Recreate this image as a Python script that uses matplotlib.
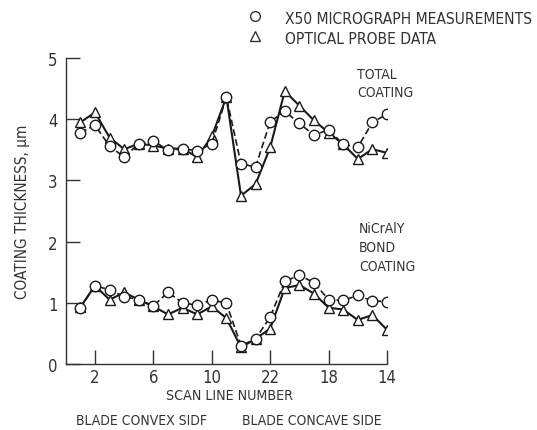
import matplotlib
matplotlib.use("Agg")
import matplotlib.pyplot as plt
from matplotlib.lines import Line2D

# fuente condensada parecida a la del original
plt.rcParams['font.family'] = ['DejaVu Sans']
plt.rcParams['font.stretch'] = 'condensed'

# posicion de cada linea de barrido (1-11 lado convexo, 12-22 lado concavo)
scan_pos = list(range(1, 23))
tick_pos = [2, 6, 10, 14, 18, 22]
tick_labels = ['2', '6', '10', '22', '18', '14']

# recubrimiento total
total_micro = [3.78, 3.90, 3.56, 3.38, 3.60, 3.65, 3.49, 3.52, 3.48, 3.60, 4.36,
               3.27, 3.22, 3.96, 4.13, 3.93, 3.74, 3.83, 3.59, 3.54, 3.95, 4.08]
total_probe = [3.95, 4.11, 3.70, 3.51, 3.60, 3.57, 3.52, 3.52, 3.38, 3.72, 4.36,
               2.75, 2.94, 3.54, 4.46, 4.22, 3.98, 3.78, 3.59, 3.35, 3.51, 3.45]

# capa de union NiCrAlY
bond_micro = [0.92, 1.28, 1.21, 1.10, 1.05, 0.95, 1.17, 1.00, 0.96, 1.05, 0.99,
              0.30, 0.41, 0.77, 1.35, 1.45, 1.33, 1.05, 1.04, 1.12, 1.03, 1.02]
bond_probe = [0.93, 1.28, 1.05, 1.17, 1.05, 0.94, 0.81, 0.92, 0.81, 0.94, 0.75,
              0.27, 0.41, 0.58, 1.24, 1.29, 1.15, 0.92, 0.89, 0.72, 0.80, 0.56]

ink = '#1a1a1a'
txt = '#333333'

fig = plt.figure(figsize=(5.37, 4.31), dpi=100)
ax = fig.add_axes([65.8 / 537, 1 - 365 / 431, (387 - 65.8) / 537, (365 - 59) / 431])

for micro, probe in [(total_micro, total_probe), (bond_micro, bond_probe)]:
    ax.plot(scan_pos, probe, '-', color=ink, lw=1.5, marker='^', ms=7.5,
            mfc='white', mec=ink, mew=1.0, zorder=3)
    ax.plot(scan_pos, micro, '--', color=ink, lw=1.2, dashes=(4, 2), marker='o', ms=7.5,
            mfc='white', mec=ink, mew=1.0, zorder=4)

ax.set_xlim(0, 22)
ax.set_ylim(0, 5)
ax.set_xticks(tick_pos)
ax.set_xticklabels(tick_labels)
ax.set_yticks([0, 1, 2, 3, 4, 5])
ax.spines['top'].set_visible(False)
ax.spines['right'].set_visible(False)
for s in ['left', 'bottom']:
    ax.spines[s].set_color(txt)
    ax.spines[s].set_linewidth(1.0)
ax.tick_params(direction='in', length=10, width=1.0, color=txt, labelcolor=txt,
               labelsize=12, pad=6)
ax.tick_params(axis='x', pad=3)

ax.set_ylabel('COATING THICKNESS, μm', fontsize=11, color=txt, labelpad=13)

def fig_text(x, y, s, **kw):
    fig.text(x / 537, 1 - y / 431, s, color=txt, va='center', **kw)

fig_text(230, 396, 'SCAN LINE NUMBER', ha='center', fontsize=10.2)
fig_text(142, 421, 'BLADE CONVEX SIDF', ha='center', fontsize=10)
fig_text(312, 421, 'BLADE CONCAVE SIDE', ha='center', fontsize=10)
fig_text(357, 75, 'TOTAL', ha='left', fontsize=10)
fig_text(357, 93, 'COATING', ha='left', fontsize=10)
fig_text(359, 229, 'NiCrAlY', ha='left', fontsize=10)
fig_text(359, 248, 'BOND', ha='left', fontsize=10)
fig_text(359, 267, 'COATING', ha='left', fontsize=10)

# leyenda manual
fig.add_artist(Line2D([255 / 537], [1 - 17 / 431], marker='o', ms=7, mfc='white',
                      mec=txt, mew=1.0, transform=fig.transFigure))
fig.add_artist(Line2D([255 / 537], [1 - 37 / 431], marker='^', ms=7, mfc='white',
                      mec=txt, mew=1.0, transform=fig.transFigure))
fig_text(285, 19, 'X50 MICROGRAPH MEASUREMENTS', ha='left', fontsize=11.2)
fig_text(285, 39, 'OPTICAL PROBE DATA', ha='left', fontsize=11.2)

fig.savefig('out.png', dpi=100)
